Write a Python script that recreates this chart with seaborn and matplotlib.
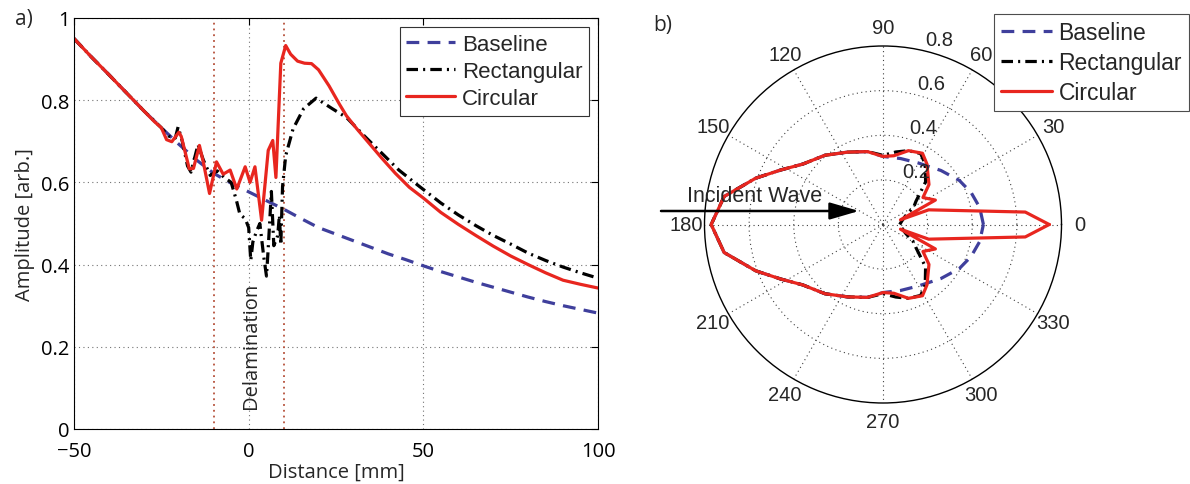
import numpy as np
import matplotlib
matplotlib.use("Agg")
import matplotlib.pyplot as plt
import seaborn as sns
from matplotlib.patches import FancyArrowPatch

# ---------------- data: panel a) amplitude vs distance ----------------
base_x = [-50, -45, -40, -35, -30, -25, -20, -15, -10, -5, 0, 5, 10, 15, 20, 25, 30,
          35, 40, 45, 50, 55, 60, 65, 70, 75, 80, 85, 90, 95, 100]
base_y = [0.950, 0.905, 0.862, 0.818, 0.774, 0.733, 0.693, 0.655, 0.622, 0.598, 0.577,
          0.556, 0.535, 0.512, 0.490, 0.474, 0.458, 0.442, 0.426, 0.412, 0.397, 0.383,
          0.370, 0.357, 0.345, 0.333, 0.321, 0.310, 0.300, 0.291, 0.282]

rect_x = [-50, -45, -40, -35, -30, -25, -23, -21, -20.2, -19, -17.5, -16.5, -14.5, -13,
          -11, -9, -7, -5, -3.5, -2.5, -1, 0, 0.6, 1.2, 2.2, 3.2, 4.3, 5.1, 5.6, 6.5,
          7.2, 8.3, 8.8, 9.2, 9.7, 10.6, 12.7, 15.7, 19.3, 22, 24, 28, 33, 38, 43,
          48.6, 55, 60, 65, 70, 75, 80, 85, 90, 95, 100]
rect_y = [0.950, 0.905, 0.862, 0.818, 0.774, 0.733, 0.713, 0.708, 0.735, 0.700, 0.640,
          0.625, 0.692, 0.655, 0.617, 0.628, 0.612, 0.600, 0.556, 0.522, 0.512, 0.490,
          0.410, 0.455, 0.480, 0.500, 0.420, 0.372, 0.440, 0.578, 0.446, 0.470, 0.520,
          0.448, 0.590, 0.665, 0.730, 0.779, 0.805, 0.790, 0.779, 0.758, 0.714, 0.672,
          0.630, 0.592, 0.550, 0.521, 0.495, 0.471, 0.450, 0.428, 0.410, 0.394, 0.380,
          0.367]

circ_x = [-50, -45, -40, -35, -30, -27, -25, -23.5, -22, -20, -19.3, -17, -15.8, -14.1,
          -13, -11.2, -9.2, -7.3, -5.3, -3.4, -1, 0.4, 1.8, 3.7, 5.6, 6.9, 7.8, 9.2,
          10.6, 12, 14, 16, 18, 20, 23, 26, 28, 31, 34, 38, 42, 46, 50, 55, 60, 65,
          70, 75, 80, 85, 90, 95, 100]
circ_y = [0.950, 0.905, 0.862, 0.818, 0.774, 0.748, 0.733, 0.704, 0.699, 0.722, 0.712,
          0.633, 0.634, 0.690, 0.650, 0.573, 0.650, 0.620, 0.630, 0.584, 0.638, 0.600,
          0.638, 0.508, 0.678, 0.702, 0.612, 0.890, 0.933, 0.912, 0.895, 0.890, 0.889,
          0.874, 0.835, 0.790, 0.762, 0.730, 0.700, 0.660, 0.622, 0.588, 0.562, 0.527,
          0.498, 0.471, 0.445, 0.421, 0.400, 0.380, 0.362, 0.352, 0.343]

x_ticks = [-50, 0, 50, 100]
y_ticks = [0, 0.2, 0.4, 0.6, 0.8, 1]
y_tick_labels = ["0", "0.2", "0.4", "0.6", "0.8", "1"]
delam_edges = [-10, 10]

# ---------------- data: panel b) polar scattering pattern ----------------
pb_theta = [0, 10, 20, 30, 43, 60, 75, 90, 102, 116, 130, 143, 152, 160, 170, 180,
            190, 200, 208, 217, 230, 244, 258, 270, 285, 300, 317, 330, 340, 350, 360]
pb_r = [0.450, 0.440, 0.420, 0.395, 0.355, 0.318, 0.306, 0.305, 0.334, 0.361, 0.405,
        0.450, 0.520, 0.607, 0.723, 0.770, 0.723, 0.607, 0.520, 0.450, 0.405, 0.361,
        0.334, 0.305, 0.306, 0.318, 0.355, 0.395, 0.420, 0.440, 0.450]

pr_theta = [0, 10, 21, 30, 35, 45, 55, 62, 71, 80, 90, 102, 116, 130, 143, 152, 160,
            170, 180, 190, 200, 208, 217, 230, 244, 258, 270, 280, 289, 298, 305, 315,
            325, 330, 339, 350, 360]
pr_r = [0.075, 0.085, 0.108, 0.160, 0.180, 0.270, 0.330, 0.360, 0.350, 0.330, 0.310,
        0.334, 0.361, 0.405, 0.450, 0.520, 0.607, 0.723, 0.770, 0.723, 0.607, 0.520,
        0.450, 0.405, 0.361, 0.334, 0.310, 0.330, 0.350, 0.360, 0.330, 0.270, 0.180,
        0.160, 0.108, 0.085, 0.075]

pc_theta = [0, 5, 17.8, 15, 25, 34, 41, 54, 61, 71, 81, 90, 102, 116, 130, 143, 152,
            160, 170, 180, 190, 200, 208, 217, 230, 244, 258, 270, 279, 289, 299, 306,
            319, 326, 335, 345, 342.2, 355, 360]
pc_r = [0.745, 0.640, 0.215, 0.081, 0.259, 0.216, 0.273, 0.335, 0.365, 0.350, 0.312,
        0.305, 0.334, 0.361, 0.405, 0.450, 0.520, 0.607, 0.723, 0.770, 0.723, 0.607,
        0.520, 0.450, 0.405, 0.361, 0.334, 0.305, 0.312, 0.350, 0.365, 0.335, 0.273,
        0.216, 0.259, 0.081, 0.215, 0.640, 0.745]

theta_ticks = [0, 30, 60, 90, 120, 150, 180, 210, 240, 270, 300, 330]
r_rings = [0.2, 0.4, 0.6]
r_labels = [0.2, 0.4, 0.6, 0.8]

# ---------------- styling ----------------
sns.set_theme(style="white")
plt.rcParams["font.family"] = ["Liberation Sans", "DejaVu Sans"]
plt.rcParams["axes.unicode_minus"] = True

RED = "#E8261F"
BLUE = "#3F3F9C"
BLACK = "#000000"
LW = 2.3
DASH = (0, (4, 2.6))
DASHDOT = (0, (3.6, 1.6, 0.65, 1.6))
GRID_LS = (0, (1, 3))

W, H = 1190, 485
fig = plt.figure(figsize=(W / 100, H / 100), dpi=100)

# ---------------- panel a ----------------
ax = fig.add_axes([74 / W, 1 - 430 / H, 524 / W, 411 / H])
sns.lineplot(x=base_x, y=base_y, ax=ax, color=BLUE, lw=LW, linestyle=DASH,
             sort=False, estimator=None, label="Baseline")
sns.lineplot(x=rect_x, y=rect_y, ax=ax, color=BLACK, lw=LW, linestyle=DASHDOT,
             sort=False, estimator=None, label="Rectangular")
sns.lineplot(x=circ_x, y=circ_y, ax=ax, color=RED, lw=LW, linestyle="-",
             sort=False, estimator=None, label="Circular")
for xe in delam_edges:
    ax.axvline(xe, color="#B5503A", lw=1.3, linestyle=(0, (1, 2.2)), zorder=1)

ax.set_xlim(-50, 100)
ax.set_ylim(0, 1)
ax.set_xticks(x_ticks)
ax.set_xticklabels([f"{v:d}".replace("-", "\u2212") for v in x_ticks],
                   fontsize=14.5, family="Open Sans")
ax.set_yticks(y_ticks)
ax.set_yticklabels(y_tick_labels, fontsize=14.5, family="Open Sans")
ax.tick_params(direction="in", length=5, width=0.8, top=True, right=True,
               colors="black")
ax.tick_params(axis="x", pad=9)
ax.tick_params(axis="y", pad=3)
ax.grid(True, linestyle=GRID_LS, color="0.45", lw=0.8)
for sp in ax.spines.values():
    sp.set_color("black")
    sp.set_linewidth(0.8)
ax.set_xlabel("Distance [mm]", fontsize=14.5, family="Open Sans", labelpad=0)
ax.set_ylabel("Amplitude [arb.]", fontsize=14.5, family="Open Sans", labelpad=5)
ax.text(0.7, 0.205, "Delamination", rotation=90, ha="center", va="center",
        fontsize=14.5, family="Open Sans")
leg = ax.legend(loc="upper right", bbox_to_anchor=(0.983, 0.978), borderaxespad=0,
                fontsize=16, frameon=True, fancybox=False, framealpha=1,
                edgecolor="0.2", handlelength=2.2, handletextpad=0.3,
                labelspacing=0.28, borderpad=0.3)
leg.get_frame().set_linewidth(0.8)
fig.text(24 / W, 1 - 20 / H, "a)", ha="center", va="center", fontsize=15,
         family="Open Sans")

# ---------------- panel b ----------------
axp = fig.add_axes([704.5 / W, 1 - 404 / H, 357 / W, 357 / H], projection="polar")
sns.lineplot(x=np.deg2rad(pb_theta), y=pb_r, ax=axp, color=BLUE, lw=LW,
             linestyle=DASH, sort=False, estimator=None, label="Baseline")
sns.lineplot(x=np.deg2rad(pr_theta), y=pr_r, ax=axp, color=BLACK, lw=LW,
             linestyle=DASHDOT, sort=False, estimator=None, label="Rectangular")
sns.lineplot(x=np.deg2rad(pc_theta), y=pc_r, ax=axp, color=RED, lw=LW,
             linestyle="-", sort=False, estimator=None, label="Circular")
axp.set_xlabel("")
axp.set_ylabel("")
axp.set_ylim(0, 0.8)
axp.set_yticks(r_rings)
axp.set_yticklabels([])
axp.set_xticks(np.deg2rad(theta_ticks))
axp.set_xticklabels([str(t) for t in theta_ticks], fontsize=14.5)
axp.tick_params(axis="x", pad=0)
axp.grid(True, linestyle=GRID_LS, color="0.25", lw=0.8)
axp.spines["polar"].set_color("black")
axp.spines["polar"].set_linewidth(1.0)
for rv in r_labels:
    axp.annotate(f"{rv:g}", xy=(np.deg2rad(80), rv), xytext=(8, 2.5),
                 textcoords="offset points", ha="left", va="baseline",
                 fontsize=14.5, annotation_clip=False)
handles, labels = axp.get_legend_handles_labels()
if axp.get_legend() is not None:
    axp.get_legend().remove()
leg2 = fig.legend(handles, labels, loc="upper right",
                  bbox_to_anchor=(1189 / W, 1 - 15 / H), bbox_transform=fig.transFigure,
                  borderaxespad=0, fontsize=16.5, frameon=True, fancybox=False,
                  framealpha=1, edgecolor="0.3", handlelength=2.2,
                  handletextpad=0.3, labelspacing=0.3, borderpad=0.3)
leg2.get_frame().set_linewidth(0.8)

arrow = FancyArrowPatch((661 / W, 1 - 212 / H), (859 / W, 1 - 212 / H),
                        transform=fig.transFigure,
                        arrowstyle="-|>,head_length=1.2,head_width=0.35",
                        mutation_scale=15, color="black", lw=1.8,
                        shrinkA=0, shrinkB=0)
fig.add_artist(arrow)
fig.text(755 / W, 1 - 197 / H, "Incident Wave", ha="center", va="center",
         fontsize=15.5)
fig.text(663 / W, 1 - 26 / H, "b)", ha="center", va="center", fontsize=15,
         family="Open Sans")

fig.savefig("out.png", dpi=100)
